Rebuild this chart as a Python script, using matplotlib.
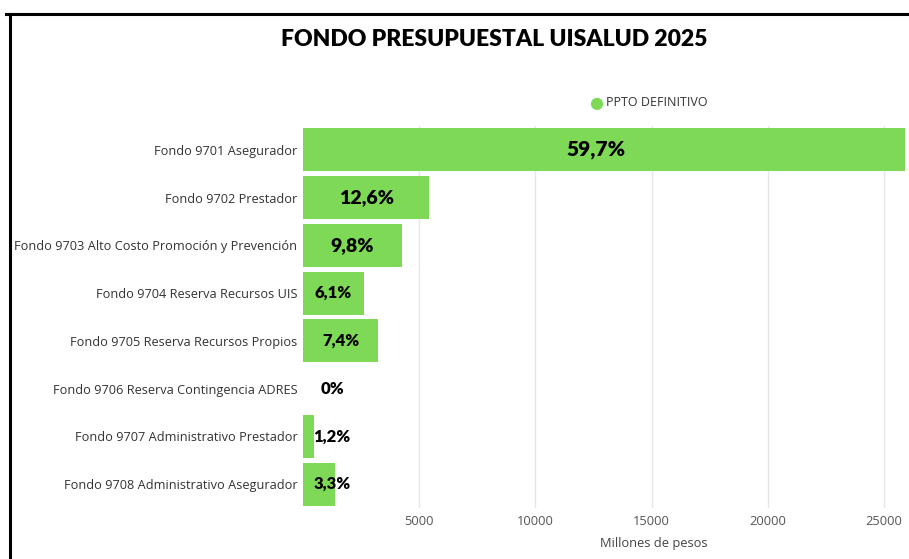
import matplotlib.pyplot as plt
from matplotlib.lines import Line2D

# Fondos presupuestales UISALUD 2025 (millones de pesos)
fondos = [
    'Fondo 9701 Asegurador',
    'Fondo 9702 Prestador',
    'Fondo 9703 Alto Costo Promoción y Prevención',
    'Fondo 9704 Reserva Recursos UIS',
    'Fondo 9705 Reserva Recursos Propios',
    'Fondo 9706 Reserva Contingencia ADRES',
    'Fondo 9707 Administrativo Prestador',
    'Fondo 9708 Administrativo Asegurador',
]
ppto_definitivo = [25900, 5435, 4250, 2630, 3230, 0, 480, 1380]
porcentajes = ['59,7%', '12,6%', '9,8%', '6,1%', '7,4%', '0%', '1,2%', '3,3%']
ticks_x = [5000, 10000, 15000, 20000, 25000]

verde = '#7ED957'
size_pct = [15, 14, 14, 12, 12, 12, 12, 12]

fig = plt.figure(figsize=(9.09, 5.59), dpi=100)
ax = fig.add_axes([303 / 909, 1 - 508 / 559, 603 / 909, 382 / 559])

y = list(range(len(fondos)))
ax.barh(y, ppto_definitivo, height=0.9, color=verde, zorder=3)

for i, (v, txt) in enumerate(zip(ppto_definitivo, porcentajes)):
    xpos = max(v / 2, 1250)
    if i == 0:
        xpos -= 350
    ax.text(xpos, i, txt, ha='center', va='center', fontsize=size_pct[i],
            fontweight='heavy', family='Lato', color='black', zorder=4)

ax.set_ylim(len(fondos) - 0.5, -0.5)
ax.set_xlim(0, 25950)
ax.set_yticks(y)
ax.set_yticklabels(fondos, family='Open Sans', fontsize=9.2, color='#333333')
ax.set_xticks(ticks_x)
ax.set_xticklabels([str(t) for t in ticks_x], family='Open Sans', fontsize=9.3, color='#555555')
ax.tick_params(length=0, pad=5)
ax.tick_params(axis='y', pad=4)
ax.grid(axis='x', color='#e6e6e6', linewidth=1, zorder=0)
for s in ax.spines.values():
    s.set_visible(False)

ax.set_xlabel('Millones de pesos', family='Open Sans', fontsize=9.3, color='#444444')
ax.xaxis.set_label_coords((654 - 303) / 603, -0.075)

fig.text(494 / 909, 1 - 40 / 559, 'FONDO PRESUPUESTAL UISALUD 2025', ha='center', va='center',
         fontsize=16.5, fontweight='heavy', family='Lato', color='black')

# leyenda
fig.text(596 / 909, 1 - 103 / 559, '●', ha='center', va='center', fontsize=11.5, color=verde)
fig.text(606 / 909, 1 - 103 / 559, 'PPTO DEFINITIVO', ha='left', va='center',
         fontsize=9, family='Open Sans', color='#333333')

# marco negro de la captura
fig.add_artist(Line2D([6 / 909, 1], [1 - 14 / 559, 1 - 14 / 559], color='black', linewidth=2.2))
fig.add_artist(Line2D([10 / 909, 10 / 909], [0, 1 - 14 / 559], color='black', linewidth=2.2))

fig.savefig('out.png', dpi=100)
